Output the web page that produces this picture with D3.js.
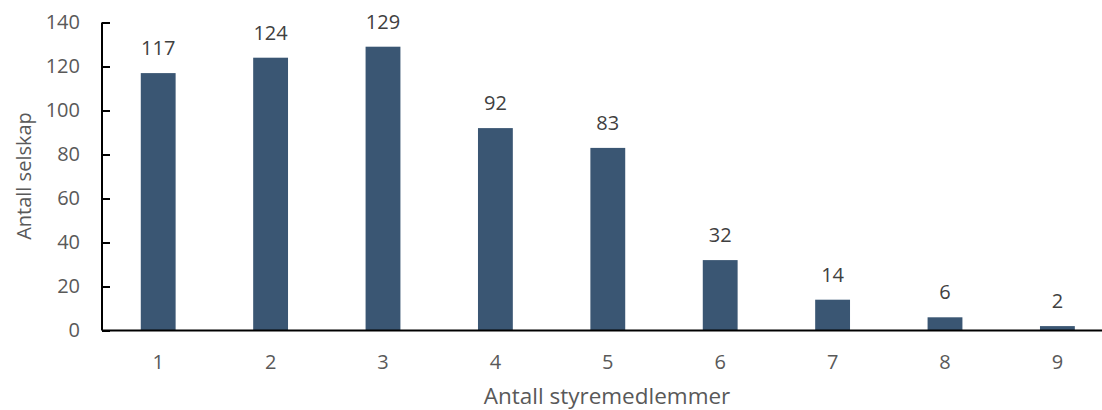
<!DOCTYPE html>
<html>
<head>
<meta charset="utf-8">
<script src="https://cdn.jsdelivr.net/npm/d3@7"></script>
<style>
  html, body { margin: 0; padding: 0; background: #fff; }
  svg { display: block; font-family: "Open Sans", sans-serif; }
</style>
</head>
<body>
<svg id="chart" width="1102" height="410"></svg>
<script>
// Number of board members per company vs. number of companies
const categories = ["1", "2", "3", "4", "5", "6", "7", "8", "9"];
const values = [117, 124, 129, 92, 83, 32, 14, 6, 2];
const yTicks = [0, 20, 40, 60, 80, 100, 120, 140];
const xTitle = "Antall styremedlemmer";
const yTitle = "Antall selskap";

const W = 1102, H = 410;
const mLeft = 102, mBottom = 330.5, mTop = 22.5;
const svg = d3.select("#chart");

const x = d3.scaleBand().domain(categories).range([mLeft, mLeft + 9 * 112.4]).paddingInner(0.69).paddingOuter(0.345);
const y = d3.scaleLinear().domain([0, 140]).range([mBottom, mTop]);

// bars
svg.append("g").selectAll("rect").data(values).join("rect")
  .attr("x", (d, i) => x(categories[i]))
  .attr("width", x.bandwidth())
  .attr("y", d => y(d))
  .attr("height", d => y(0) - y(d))
  .attr("fill", "#3A5673");

// value labels
svg.append("g").selectAll("text").data(values).join("text")
  .attr("x", (d, i) => x(categories[i]) + x.bandwidth() / 2)
  .attr("y", d => y(d) - 18)
  .attr("text-anchor", "middle")
  .attr("font-size", 20)
  .attr("fill", "#404040")
  .text(d => d);

// y axis with inward ticks
const yAxis = svg.append("g").attr("transform", `translate(${mLeft},0)`)
  .call(d3.axisLeft(y).tickValues(yTicks).tickSize(-8).tickPadding(22));
yAxis.select(".domain").attr("stroke", "#000").attr("stroke-width", 2).attr("d", `M0,${mTop}V${mBottom}`);
yAxis.selectAll(".tick line").attr("stroke", "#000").attr("stroke-width", 2);
yAxis.selectAll("text").attr("font-size", 20).attr("fill", "#595959").attr("font-family", "Open Sans, sans-serif");

// x axis
const xAxis = svg.append("g").attr("transform", `translate(0,${mBottom})`)
  .call(d3.axisBottom(x).tickSize(0).tickPadding(24));
xAxis.select(".domain").attr("stroke", "#000").attr("stroke-width", 2).attr("d", `M${mLeft},0H${W}`);
xAxis.selectAll("text").attr("font-size", 20).attr("fill", "#595959").attr("font-family", "Open Sans, sans-serif");

// axis titles
svg.append("text")
  .attr("x", 607).attr("y", 404)
  .attr("text-anchor", "middle")
  .attr("font-size", 22.5).attr("fill", "#595959")
  .text(xTitle);
svg.append("text")
  .attr("transform", `translate(31,176) rotate(-90)`)
  .attr("text-anchor", "middle")
  .attr("font-size", 20).attr("fill", "#595959")
  .text(yTitle);
</script>
</body>
</html>
